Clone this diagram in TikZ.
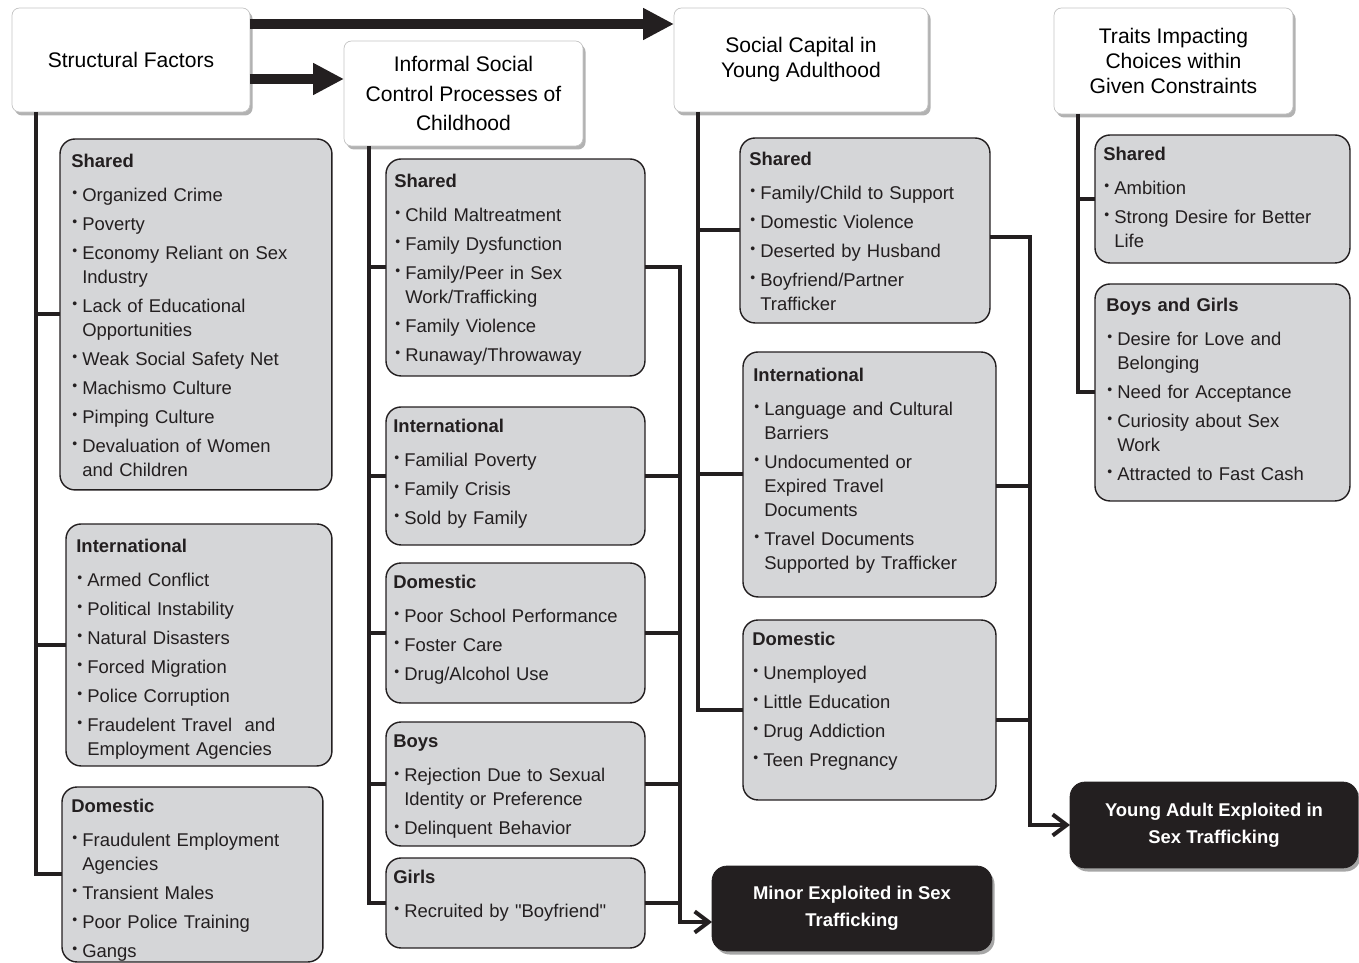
\documentclass[tikz,border=0pt]{standalone}
\usepackage{fontspec}
\setmainfont{Liberation Sans}[Ligatures=TeXOff]
\usetikzlibrary{positioning, calc, shadows, arrows.meta}

\definecolor{ink}{HTML}{231F20}
\definecolor{boxgray}{HTML}{D5D6D8}
\definecolor{hdrline}{HTML}{C4C4C4}

\newcommand{\catfont}{\fontsize{10.5}{13.66}\selectfont\setlength{\parskip}{0.1cm}\setlength{\parindent}{0pt}}
\newcommand{\cathead}[1]{\textbf{#1}\par\vspace{0.1cm}}
\newcommand{\itm}{\par\hangindent=0.22cm\hangafter=1\makebox[0.22cm][l]{\hspace{0.02cm}\raisebox{2pt}{\fontsize{8}{8}\selectfont\textbullet}}}

\begin{document}
\begin{tikzpicture}[x=0.02cm, y=-0.02cm]
  \tikzstyle{hdrbox}=[draw=hdrline, fill=white, rounded corners=0.15cm, anchor=north west, align=center, outer sep=0pt,
    font=\fontsize{12}{14.2}\selectfont, drop shadow={shadow xshift=1.5pt, shadow yshift=-2pt, fill=black!30, opacity=1}]
  \tikzstyle{catbox}=[draw=ink, line width=0.8pt, fill=boxgray, rounded corners=0.3cm, anchor=north west, outer sep=0pt, inner sep=0pt]
  \tikzstyle{cattext}=[anchor=north west, inner sep=0pt, text width=4.8cm, align=left, font=\catfont, text=ink]
  \tikzstyle{outbox}=[fill=ink, draw=ink, text=white, rounded corners=0.3cm, anchor=north west, align=center, outer sep=0pt,
    font=\fontsize{10.5}{15.3}\selectfont\bfseries, drop shadow={shadow xshift=1.5pt, shadow yshift=-2pt, fill=black!35, opacity=1}]
  \tikzstyle{conn}=[draw=ink, line width=0.08cm]
  \tikzstyle{bigarrow}=[draw=ink, line width=0.2cm, -{Triangle[length=0.62cm, width=0.6cm]}]
  \tikzstyle{outarrow}=[conn, -{Straight Barb[length=0.28cm, width=0.42cm]}]

  \useasboundingbox (0,0) rectangle (1359,963);

  % top level boxes
  \node (sf) at (12,8) [hdrbox, minimum width=4.76cm, minimum height=2.08cm] {Structural Factors};
  \node (iscp) at (344,41) [hdrbox, minimum width=4.78cm, minimum height=2.10cm, font=\fontsize{12}{16.8}\selectfont]
    {Informal Social\\Control Processes of\\Childhood};
  \node (scya) at (674,8) [hdrbox, minimum width=5.08cm, minimum height=2.08cm] {Social Capital in\\Young Adulthood};
  \node (traits) at (1054,8) [hdrbox, minimum width=4.78cm, minimum height=2.12cm]
    {Traits Impacting\\Choices within\\Given Constraints};

  % structural factors
  \node (sfShared) at (60,139) [catbox, minimum width=5.44cm, minimum height=7.02cm] {};
  \node (sfSharedT) at (71,153.5) [cattext] {\cathead{Shared}
    \itm Organized Crime
    \itm Poverty
    \itm Economy Reliant on Sex\newline Industry
    \itm Lack of Educational\newline Opportunities
    \itm Weak Social Safety Net
    \itm Machismo Culture
    \itm Pimping Culture
    \itm Devaluation of Women\newline and Children\par};
  \node (sfIntl) at (66,524) [catbox, minimum width=5.32cm, minimum height=4.84cm] {};
  \node (sfIntlT) at (76,538.5) [cattext] {\cathead{International}
    \itm Armed Conflict
    \itm Political Instability
    \itm Natural Disasters
    \itm Forced Migration
    \itm Police Corruption
    \itm Fraudelent Travel~ and\newline Employment Agencies\par};
  \node (sfDom) at (62,787) [catbox, minimum width=5.22cm, minimum height=3.50cm] {};
  \node (sfDomT) at (71,798.5) [cattext] {\cathead{Domestic}
    \itm Fraudulent Employment\newline Agencies
    \itm Transient Males
    \itm Poor Police Training
    \itm Gangs\par};

  % informal social control
  \node (icShared) at (386,159) [catbox, minimum width=5.18cm, minimum height=4.34cm] {};
  \node (icSharedT) at (394,173.5) [cattext] {\cathead{Shared}
    \itm Child Maltreatment
    \itm Family Dysfunction
    \itm Family/Peer in Sex\newline Work/Trafficking
    \itm Family Violence
    \itm Runaway/Throwaway\par};
  \node (icIntl) at (386,407) [catbox, minimum width=5.18cm, minimum height=2.76cm] {};
  \node (icIntlT) at (393,418.5) [cattext] {\cathead{International}
    \itm Familial Poverty
    \itm Family Crisis
    \itm Sold by Family\par};
  \node (icDom) at (386,563) [catbox, minimum width=5.18cm, minimum height=2.80cm] {};
  \node (icDomT) at (393,574.5) [cattext] {\cathead{Domestic}
    \itm Poor School Performance
    \itm Foster Care
    \itm Drug/Alcohol Use\par};
  \node (icBoys) at (386,722) [catbox, minimum width=5.18cm, minimum height=2.48cm] {};
  \node (icBoysT) at (393,734.5) [cattext] {\cathead{Boys}
    \itm Rejection Due to Sexual\newline Identity or Preference
    \itm Delinquent Behavior\par};
  \node (icGirls) at (386,858) [catbox, minimum width=5.18cm, minimum height=1.80cm] {};
  \node (icGirlsT) at (393,869.5) [cattext] {\cathead{Girls}
    \itm Recruited by "Boyfriend"\par};

  % social capital
  \node (scShared) at (740,138) [catbox, minimum width=5.00cm, minimum height=3.70cm] {};
  \node (scSharedT) at (749,151.5) [cattext] {\cathead{Shared}
    \itm Family/Child to Support
    \itm Domestic Violence
    \itm Deserted by Husband
    \itm Boyfriend/Partner\newline Trafficker\par};
  \node (scIntl) at (743,352) [catbox, minimum width=5.06cm, minimum height=4.90cm] {};
  \node (scIntlT) at (753,367.5) [cattext] {\cathead{International}
    \itm Language and Cultural\newline Barriers
    \itm Undocumented or\newline Expired Travel\newline Documents
    \itm Travel Documents\newline Supported by Trafficker\par};
  \node (scDom) at (743,620) [catbox, minimum width=5.06cm, minimum height=3.60cm] {};
  \node (scDomT) at (752,631.5) [cattext] {\cathead{Domestic}
    \itm Unemployed
    \itm Little Education
    \itm Drug Addiction
    \itm Teen Pregnancy\par};

  % traits
  \node (trShared) at (1095,135) [catbox, minimum width=5.10cm, minimum height=2.56cm] {};
  \node (trSharedT) at (1103,146.5) [cattext] {\cathead{Shared}
    \itm Ambition
    \itm Strong Desire for Better\newline Life\par};
  \node (trBG) at (1095,284) [catbox, minimum width=5.10cm, minimum height=4.34cm] {};
  \node (trBGT) at (1106,297.5) [cattext] {\cathead{Boys and Girls}
    \itm Desire for Love and\newline Belonging
    \itm Need for Acceptance
    \itm Curiosity about Sex\newline Work
    \itm Attracted to Fast Cash\par};

  % outcomes
  \node (minor) at (712,866) [outbox, minimum width=5.60cm, minimum height=1.70cm] {Minor Exploited in Sex\\Trafficking};
  \node (adult) at (1070,782) [outbox, minimum width=5.76cm, minimum height=1.72cm] {Young Adult Exploited in\\Sex Trafficking};

  % big arrows
  \coordinate (arTop) at ([yshift=-0.32cm]sf.north east);
  \draw[bigarrow] (arTop) -- (arTop -| scya.west);
  \coordinate (arMid) at ([yshift=-0.38cm]sf.east);
  \draw[bigarrow] (arMid) -- (arMid -| iscp.west);

  % trunks on the left of each column
  \coordinate (sfTrunk) at ([xshift=0.48cm]sf.south west);
  \draw[conn] (sfTrunk) |- (sfDom.west);
  \draw[conn] (sfTrunk |- sfShared.west) -- (sfShared.west);
  \draw[conn] (sfTrunk |- sfIntl.west) -- (sfIntl.west);

  \coordinate (icTrunk) at ([xshift=0.5cm]iscp.south west);
  \draw[conn] (icTrunk) |- (icGirls.west);
  \foreach \b in {icShared, icIntl, icDom, icBoys}
    \draw[conn] (icTrunk |- \b.west) -- (\b.west);

  \coordinate (scTrunk) at ([xshift=0.48cm]scya.south west);
  \draw[conn] (scTrunk) |- (scDom.west);
  \draw[conn] (scTrunk |- scShared.west) -- (scShared.west);
  \draw[conn] (scTrunk |- scIntl.west) -- (scIntl.west);

  \coordinate (trTrunk) at ([xshift=0.48cm]traits.south west);
  \draw[conn] (trTrunk) |- (trBG.west);
  \draw[conn] (trTrunk |- trShared.west) -- (trShared.west);

  % joins to the outcomes
  \coordinate (icRight) at ([xshift=0.7cm]icShared.east);
  \draw[outarrow] (icShared.east) -- (icRight) |- ([yshift=-0.27cm]minor.west);
  \foreach \b in {icIntl, icDom, icBoys, icGirls}
    \draw[conn] (\b.east) -- (\b.east -| icRight);

  \coordinate (scSharedOut) at ([yshift=-0.13cm]scShared.east);
  \coordinate (scIntlOut) at ([yshift=-0.23cm]scIntl.east);
  \coordinate (scDomOut) at ([yshift=-0.2cm]scDom.east);
  \coordinate (scRight) at ([xshift=0.8cm]scSharedOut);
  \draw[outarrow] (scSharedOut) -- (scRight) |- (adult.west);
  \draw[conn] (scIntlOut) -- (scIntlOut -| scRight);
  \draw[conn] (scDomOut) -- (scDomOut -| scRight);
\end{tikzpicture}
\end{document}
